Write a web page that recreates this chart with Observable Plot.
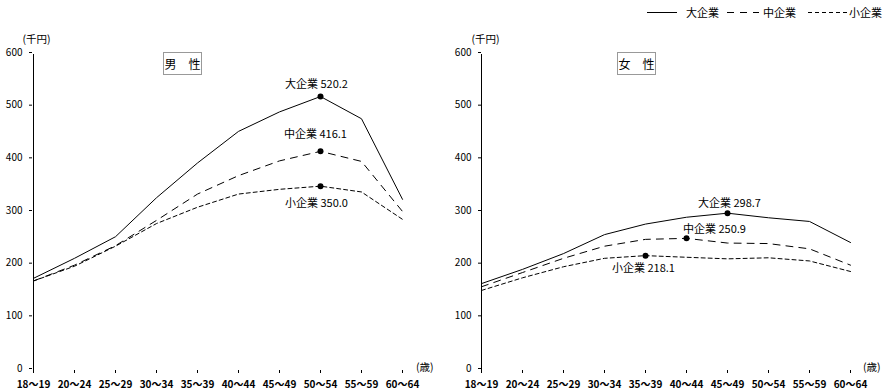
<!DOCTYPE html>
<html><head><meta charset="utf-8">
<script src="https://cdn.jsdelivr.net/npm/d3@7"></script>
<script src="https://cdn.jsdelivr.net/npm/@observablehq/plot@0.6"></script>
<style>
body{margin:0;background:#fff;}
#wrap{position:relative;width:893px;height:391px;font-family:"Noto Sans CJK JP",sans-serif;overflow:hidden;}
.panel{position:absolute;top:0;}
.box{position:absolute;border:1px solid #999;font-size:12px;line-height:21px;text-align:center;height:21px;width:37px;background:#fff;color:#000;}
#legend{position:absolute;left:0;top:0;}
</style></head><body><div id="wrap"></div>
<script>
const ages = ["18～19","20～24","25～29","30～34","35～39","40～44","45～49","50～54","55～59","60～64"];
const seriesNames = ["大企業","中企業","小企業"];
const yTicks = [0,100,200,300,400,500,600];
const maleLarge  = [175, 213, 254, 328, 394, 454, 491, 520.2, 478, 325];
const maleMedium = [170, 200, 237, 285, 335, 370, 398, 416.1, 397, 302];
const maleSmall  = [170, 198, 236, 279, 310, 335, 344, 350.0, 339, 287];
const femaleLarge  = [165, 192, 222, 258, 278, 291, 298.7, 290, 283, 243];
const femaleMedium = [159, 186, 213, 236, 249, 250.9, 242, 241, 231, 200];
const femaleSmall  = [152, 176, 197, 213, 218.1, 215, 212, 214, 208, 188];

const dashes = {"大企業": null, "中企業": "7,6", "小企業": "4,3"};
const font = '"Noto Sans CJK JP", sans-serif';

function rows(vals) {
  return seriesNames.flatMap((s, i) => vals[i].map((v, j) => ({series: s, age: ages[j], value: v})));
}
function peaks(vals) {
  return seriesNames.map((s, i) => {
    const v = vals[i]; const m = d3.maxIndex(v);
    return {series: s, age: ages[m], value: v[m], label: `${s} ${v[m].toFixed(1)}`};
  });
}

function panel(vals, cfg) {
  const data = rows(vals);
  const pk = peaks(vals);
  const marks = [
    Plot.ruleX([ages[0]], {x: d => d, y1: 0, y2: 600, stroke: "black"}),
    Plot.ruleY([0], {y: d => d, x1: ages[0], x2: ages[ages.length - 1], stroke: "black"}),
    Plot.axisY(yTicks, {tickSize: -3, tickPadding: 10, label: null, fill: "black", fontSize: 10, dy: -2}),
    Plot.axisX(ages, {tickSize: 3, tickPadding: 7, label: null, fontWeight: "bold", fill: "black", fontSize: 10}),
  ];
  for (const s of seriesNames) {
    marks.push(Plot.line(data.filter(d => d.series === s), {
      x: "age", y: "value", stroke: "black", strokeWidth: 1,
      strokeDasharray: dashes[s] ?? undefined
    }));
  }
  marks.push(Plot.dot(pk, {x: "age", y: "value", r: 3, fill: "black"}));
  pk.forEach((p, i) => {
    marks.push(Plot.text([p], {x: "age", y: "value", text: "label", dx: cfg.off[i][0], dy: cfg.off[i][1], fill: "black", fontSize: 11}));
  });
  marks.push(Plot.text(["(千円)"], {text: d => d, frameAnchor: "top-left", dx: -7, dy: -19, fill: "black", fontSize: 10.5}));
  marks.push(Plot.text(["(歳)"], {text: d => d, frameAnchor: "bottom-right", dx: 28, dy: 0, fill: "black", fontSize: 10.5}));
  return Plot.plot({
    width: cfg.width, height: 391,
    marginTop: 54, marginBottom: 21, marginLeft: cfg.ml, marginRight: cfg.mr,
    x: {type: "point", domain: ages, padding: 0},
    y: {domain: [0, 600]},
    style: {fontFamily: font, fontSize: "11px", color: "black", background: "transparent"},
    marks
  });
}

const wrap = document.getElementById("wrap");
const left = panel([maleLarge, maleMedium, maleSmall], {width: 446, ml: 29, mr: 41,
  off: [[-4, -12], [-5, -17], [-4, 17]]});
left.classList.add("panel"); left.style.left = "0px";
wrap.appendChild(left);
const right = panel([femaleLarge, femaleMedium, femaleSmall], {width: 447, ml: 32, mr: 41,
  off: [[2, -10], [28, -9], [-2, 13]]});
right.classList.add("panel"); right.style.left = "446px";
wrap.appendChild(right);

function box(text, x) {
  const b = document.createElement("div");
  b.className = "box"; b.textContent = text;
  b.style.left = x + "px"; b.style.top = "52px";
  wrap.appendChild(b);
}
box("男　性", 163);
box("女　性", 617);

// legend
const lg = d3.select(wrap).append("svg").attr("id", "legend").attr("width", 893).attr("height", 26)
  .style("font-family", font).style("font-size", "11px");
const items = [
  {name: seriesNames[0], x1: 647, x2: 677, tx: 686},
  {name: seriesNames[1], x1: 727, x2: 759, tx: 763},
  {name: seriesNames[2], x1: 808, x2: 848, tx: 849}
];
items.forEach(it => {
  lg.append("line").attr("x1", it.x1).attr("x2", it.x2).attr("y1", 12.5).attr("y2", 12.5)
    .attr("stroke", "black").attr("stroke-width", 1).attr("stroke-dasharray", dashes[it.name]);
  lg.append("text").attr("x", it.tx).attr("y", 16.5).text(it.name).attr("fill", "black");
});
</script></body></html>
